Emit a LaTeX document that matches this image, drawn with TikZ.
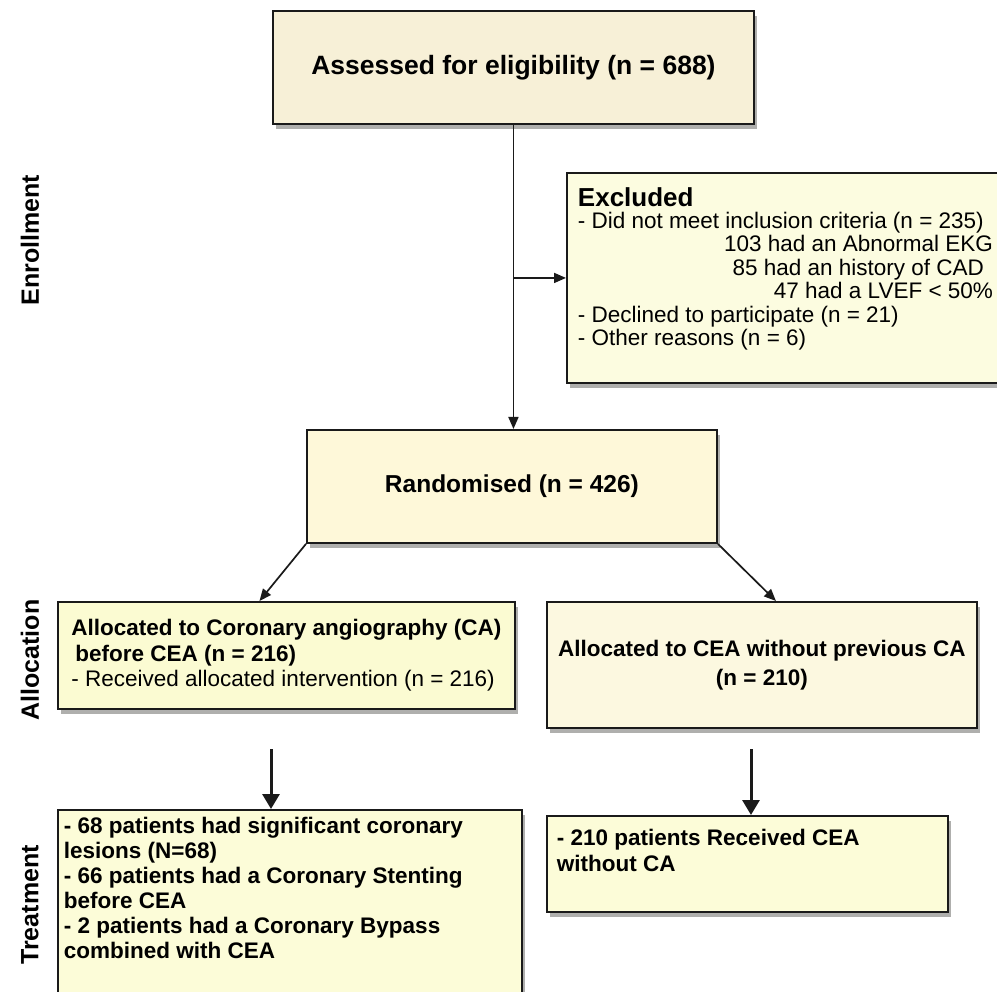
\documentclass[tikz,border=0pt]{standalone}
\usepackage{fontspec}
\setmainfont{Liberation Sans}
\usepackage{tikz}
\usetikzlibrary{arrows.meta,positioning,shadows}
\newcommand{\topfit}[4]{\parbox[c][#1][t]{#2}{\rule{0pt}{#3}#4}}
\definecolor{oline}{HTML}{1A1A1A}
\definecolor{oshade}{HTML}{6E6E6A}
\definecolor{oassess}{HTML}{F7F0D7}
\definecolor{orand}{HTML}{FEF8D9}
\definecolor{oexcl}{HTML}{FCFCE0}
\definecolor{oallocca}{HTML}{FBFBD2}
\definecolor{oallocno}{HTML}{FCF8E0}
\definecolor{otreat}{HTML}{FCFCD8}

\begin{document}
\begin{tikzpicture}[x=1pt,y=-1pt,
    box/.style={draw=oline,line width=1.9pt,anchor=north west,inner ysep=0pt,
      drop shadow={fill=oshade,opacity=0.55,shadow xshift=3.5pt,shadow yshift=-5pt}},
    conn/.style={draw=oline,line width=1.7pt,-{Triangle[length=12pt,width=10pt]}},
    bigarr/.style={draw=oline,line width=3pt,-{Triangle[length=15pt,width=17pt]}},
    phase/.style={rotate=90,font=\fontsize{25}{28}\selectfont\bfseries}]
  \useasboundingbox (0,0) rectangle (997,992);

  % phase labels
  \node[phase] (enroll) at (30,240) {Enrollment};
  \node[phase] (alloc) at (30,660) {Allocation};
  \node[phase] (treat) at (30,905) {Treatment};

  % enrollment
  \node[box,fill=oassess,minimum width=481pt,minimum height=113pt,
    font=\fontsize{26.5}{30}\selectfont\bfseries] (assess) at (272,10)
    {Assessed for eligibility (n = 688)};
  \node[box,fill=oexcl,minimum width=437pt,inner xsep=11pt,
    font=\fontsize{22.5}{23.5}\selectfont] (excl) at (566,172)
    {\topfit{210pt}{415pt}{34pt}{{\fontsize{26}{30}\selectfont\bfseries Excluded}\\[-2pt]
     - Did not meet inclusion criteria (n = 235)\\
     \makebox[\linewidth][r]{103 had an Abnormal EKG}\\
     \makebox[\linewidth][r]{85 had an history of CAD\hspace{9pt}}\\
     \makebox[\linewidth][r]{47 had a LVEF < 50\%}\\
     - Declined to participate (n = 21)\\
     - Other reasons (n = 6)}};
  \node[box,fill=orand,minimum width=410pt,minimum height=113pt,
    font=\fontsize{24.5}{28}\selectfont\bfseries] (rand) at (306,429)
    {Randomised (n = 426)};

  % allocation
  \node[box,fill=oallocca,minimum width=457pt,minimum height=107pt,align=left,
    font=\fontsize{22.5}{25.3}\selectfont] (allocCA) at (57,601)
    {\textbf{Allocated to Coronary angiography (CA)}\\
     \textbf{\hspace*{4pt}before CEA (n = 216)}\\
     - Received allocated intervention (n = 216)};
  \node[box,fill=oallocno,minimum width=430pt,minimum height=126pt,align=center,
    font=\fontsize{22.5}{29}\selectfont\bfseries] (allocNo) at (546,601)
    {Allocated to CEA without previous CA\\ (n = 210)};

  % treatment
  \node[box,fill=otreat,minimum width=464pt,inner xsep=6pt,
    font=\fontsize{22.5}{25}\selectfont\bfseries] (treatCA) at (57,809)
    {\topfit{206pt}{452pt}{24pt}{- 68 patients had significant coronary\\
     lesions (N=68)\\
     - 66 patients had a Coronary Stenting\\
     before CEA\\
     - 2 patients had a Coronary Bypass\\
     combined with CEA}};
  \node[box,fill=otreat,minimum width=401pt,inner xsep=10pt,
    font=\fontsize{22.5}{26}\selectfont\bfseries] (treatNo) at (546,815)
    {\topfit{96pt}{381pt}{30pt}{- 210 patients Received CEA\\ without CA}};

  % connectors
  \coordinate (branch) at (assess.south |- excl.west);
  \draw[conn] (assess.south) -- (assess.south |- rand.north);
  \draw[conn] (branch) -- (excl.west);
  \draw[conn] (rand.south west) -- ([xshift=-27pt]allocCA.north);
  \draw[conn] (rand.south east) -- ([xshift=14pt]allocNo.north);
  \coordinate (gapCA) at (271,749);
  \coordinate (gapNo) at (751,749);
  \draw[bigarr] (gapCA) -- (gapCA |- treatCA.north);
  \draw[bigarr] (gapNo) -- (gapNo |- treatNo.north);
\end{tikzpicture}
\end{document}
